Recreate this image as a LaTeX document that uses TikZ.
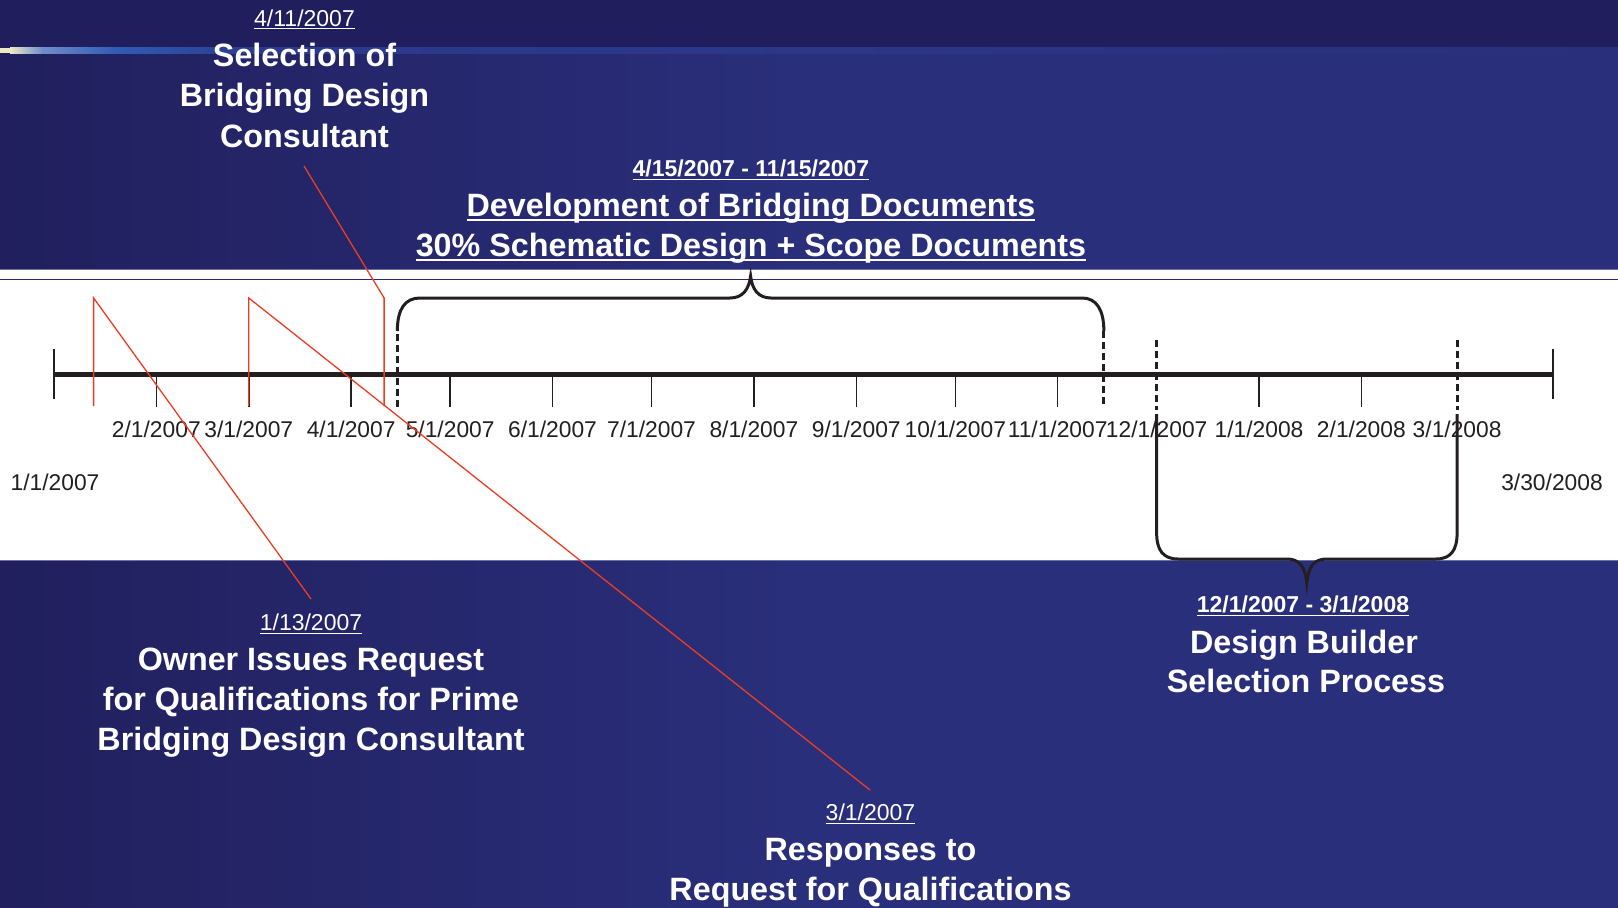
\documentclass[tikz,border=0pt]{standalone}
\usepackage{fontspec}
\setmainfont{Liberation Sans}

% palette
\definecolor{navytop}{HTML}{201E5C}
\definecolor{navyleft}{HTML}{211F5D}
\definecolor{navyright}{HTML}{2A2F7B}
\definecolor{stripepale}{HTML}{ECEAC4}
\definecolor{stripelight}{HTML}{6F8DCB}
\definecolor{stripeblue}{HTML}{2F5CB4}
\definecolor{stripedeep}{HTML}{2B3B8E}
\definecolor{bandedge}{HTML}{6C70A6}
\definecolor{bandrule}{HTML}{2B2B6C}
\definecolor{ink}{HTML}{231F20}
\definecolor{leadred}{HTML}{EC3D24}

% underline drawn just below the baseline, like a slide underline
\newsavebox\ulbox
\newcommand\ulined[1]{\sbox\ulbox{#1}\rlap{\rule[-0.15em]{\wd\ulbox}{0.07em}}\usebox\ulbox}

% day number (counted from 1/1/2007) to horizontal position on the axis
\newcommand\dayx[1]{54+3.3014*#1}

\tikzset{
  axisline/.style={draw=ink, line width=5pt},
  monthtick/.style={draw=ink, line width=1.5pt},
  dashline/.style={draw=ink, line width=3pt, dash pattern=on 7pt off 4pt},
  brace/.style={draw=ink, line width=3pt},
  leader/.style={draw=leadred, line width=1.3pt},
  ticklabel/.style={anchor=base, inner sep=0pt, text=ink, font=\fontsize{22.8}{27}\selectfont},
  datelabel/.style={anchor=base, inner sep=0pt, text=white, font=\fontsize{23}{27}\selectfont},
  spanlabel/.style={anchor=base, inner sep=0pt, text=white, font=\fontsize{23}{27}\selectfont\bfseries},
  headline/.style={anchor=base, inner sep=0pt, text=white, font=\fontsize{32.3}{40}\selectfont\bfseries},
}

\begin{document}
\begin{tikzpicture}[x=1pt, y=-1pt]
\useasboundingbox (0,0) rectangle (1618,908);

% ---- backdrop ----
\fill[navytop] (0,0) rectangle (1618,908);
\shade[left color=navyleft, right color=navyright] (0,53) rectangle (800,269);
\fill[navyright] (799,53) rectangle (1618,269);
\shade[left color=navyleft, right color=navyright] (0,560) rectangle (800,908);
\fill[navyright] (799,560) rectangle (1618,908);

% glowing stripe under the title strip
\fill[stripepale] (0,47.5) rectangle (10.5,53);
\shade[left color=stripepale, right color=stripelight] (10,47.5) rectangle (42.5,53);
\shade[left color=stripelight, right color=stripeblue] (42,47.5) rectangle (115.5,53);
\shade[left color=stripeblue, right color=stripedeep] (115,47.5) rectangle (250.5,53);
\shade[left color=stripedeep, right color=navyright] (250,47.5) rectangle (1618,53);

% white timeline band
\fill[white] (0,269) rectangle (1618,560);
\draw[bandedge, line width=1pt] (0,269) -- (1618,269);
\draw[bandedge, line width=1pt] (0,560) -- (1618,560);
\draw[bandrule, line width=1.4pt] (0,279.5) -- (1618,279.5);

% ---- captions ----
\node[datelabel] (sel-date) at (304.5,26) {\ulined{4/11/2007}};
\node[headline] (sel-1) at (304.5,66) {Selection of};
\node[headline] (sel-2) at (304.5,106) {Bridging Design};
\node[headline] (sel-3) at (304.5,147) {Consultant};

\node[spanlabel] (dev-date) at (751,176.7) {\ulined{4/15/2007 - 11/15/2007}};
\node[headline] (dev-1) at (751,216) {\ulined{Development of Bridging Documents}};
\node[headline] (dev-2) at (751,256) {\ulined{30\% Schematic Design + Scope Documents}};

\node[datelabel] (rfq-date) at (311,630.7) {\ulined{1/13/2007}};
\node[headline] (rfq-1) at (311,670) {Owner Issues Request};
\node[headline] (rfq-2) at (311,710) {for Qualifications for Prime};
\node[headline] (rfq-3) at (311,750) {Bridging Design Consultant};

\node[datelabel] (resp-date) at (870.5,820.7) {\ulined{3/1/2007}};
\node[headline] (resp-1) at (870.5,860) {Responses to};
\node[headline] (resp-2) at (870.5,900) {Request for Qualifications};

\node[spanlabel] (db-date) at (1303,612.7) {\ulined{12/1/2007 - 3/1/2008}};
\node[headline] (db-1) at (1304,653.3) {Design Builder};
\node[headline] (db-2) at (1306,692.7) {Selection Process};

% ---- time axis ----
\coordinate (axis-start) at (53,374);
\coordinate (axis-end) at (1553,374);
\draw[axisline] (axis-start) -- (axis-end);
\draw[monthtick] ({\dayx{0}},349) -- ({\dayx{0}},399);
\draw[monthtick] ({\dayx{454}},349) -- ({\dayx{454}},399);

\foreach \dd in {31,59,90,120,151,181,212,243,273,304,365,396}
  \draw[monthtick] ({\dayx{\dd}},374) -- ({\dayx{\dd}},407);

\foreach \dd/\mm/\yy in {31/2/2007,59/3/2007,90/4/2007,120/5/2007,151/6/2007,
    181/7/2007,212/8/2007,243/9/2007,273/10/2007,304/11/2007,334/12/2007,
    365/1/2008,396/2/2008,425/3/2008}
  \node[ticklabel] (lbl-\mm-\yy) at ({\dayx{\dd}},437.7) {\mm/1/\yy};

\node[ticklabel] (lbl-start) at (55,490) {1/1/2007};
\node[ticklabel] (lbl-end) at (1552,490) {3/30/2008};

% ---- phase braces ----
% bridging documents, 4/15/2007 - 11/15/2007
\draw[dashline] ({\dayx{104}},407) -- ({\dayx{104}},331);
\draw[dashline] ({\dayx{318}},331) -- ({\dayx{318}},407);
\draw[brace] ({\dayx{104}},331) .. controls ({\dayx{104}},309) and (405,298) .. (420,298)
  -- (730,298) .. controls (743,298) and (749,289) .. (750.6,276)
  .. controls (752,289) and (758,298) .. (771,298)
  -- (1082,298) .. controls (1096,298) and ({\dayx{318}},309) .. ({\dayx{318}},331);

% design builder selection, 12/1/2007 - 3/1/2008
\draw[dashline] ({\dayx{334}},340) -- ({\dayx{334}},410);
\draw[dashline] ({\dayx{425}},340) -- ({\dayx{425}},410);
\draw[brace] ({\dayx{334}},414) -- ({\dayx{334}},533)
  .. controls ({\dayx{334}},550) and (1163,559) .. (1178,559)
  -- (1287,559) .. controls (1299,559) and (1305,566) .. (1306.8,583)
  .. controls (1308.5,566) and (1314,559) .. (1327,559)
  -- (1436,559) .. controls (1451,559) and ({\dayx{425}},550) .. ({\dayx{425}},533)
  -- ({\dayx{425}},414);

% ---- event leaders ----
\coordinate (ev-rfq) at ({\dayx{12}},406);
\coordinate (ev-rfq-top) at ({\dayx{12}},298);
\coordinate (rfq-tail) at (311,599);
\draw[leader] (ev-rfq) -- (ev-rfq-top) -- (rfq-tail);

\coordinate (ev-resp) at ({\dayx{59}},406);
\coordinate (ev-resp-top) at ({\dayx{59}},298);
\coordinate (resp-tail) at (870,790);
\draw[leader] (ev-resp) -- (ev-resp-top) -- (resp-tail);

\coordinate (ev-sel) at ({\dayx{100}},406);
\coordinate (ev-sel-top) at ({\dayx{100}},298);
\coordinate (sel-tail) at (304,166);
\draw[leader] (ev-sel) -- (ev-sel-top) -- (sel-tail);
\end{tikzpicture}
\end{document}
